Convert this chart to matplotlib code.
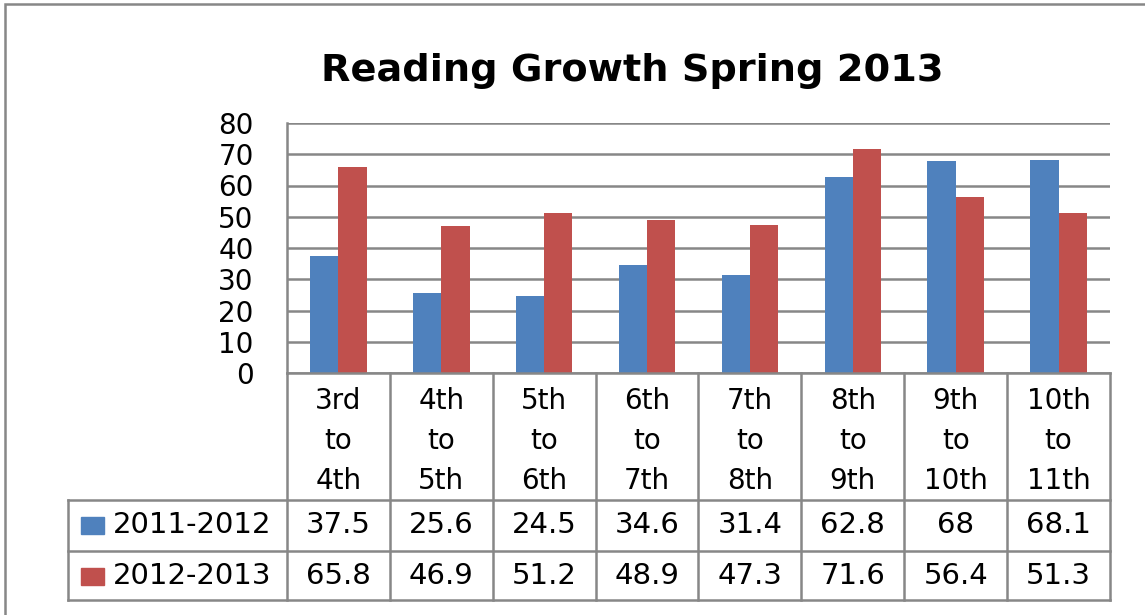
import matplotlib.pyplot as plt
from matplotlib.patches import Rectangle

categories = ["3rd\nto\n4th", "4th\nto\n5th", "5th\nto\n6th", "6th\nto\n7th",
              "7th\nto\n8th", "8th\nto\n9th", "9th\nto\n10th", "10th\nto\n11th"]
series_names = ["2011-2012", "2012-2013"]
growth_2011_2012 = [37.5, 25.6, 24.5, 34.6, 31.4, 62.8, 68, 68.1]
growth_2012_2013 = [65.8, 46.9, 51.2, 48.9, 47.3, 71.6, 56.4, 51.3]
table_text_2011 = ["37.5", "25.6", "24.5", "34.6", "31.4", "62.8", "68", "68.1"]
table_text_2012 = ["65.8", "46.9", "51.2", "48.9", "47.3", "71.6", "56.4", "51.3"]
yticks = [0, 10, 20, 30, 40, 50, 60, 70, 80]

BLUE = "#4F81BD"
RED = "#C0504D"
GRAY = "#878787"
W, H = 1145, 615


def fig_box(x0, y_top, x1, y_bot):
    # pixel box -> figure fraction [left, bottom, width, height]
    return [x0 / W, 1 - y_bot / H, (x1 - x0) / W, (y_bot - y_top) / H]


fig = plt.figure(figsize=(W / 100, H / 100), dpi=100)

# outer chart border (runs off the right and bottom edges)
fig.patches.append(Rectangle((5 / W, -0.1), 1.2, 1.1 - 4 / H, transform=fig.transFigure,
                             fill=False, edgecolor=GRAY, linewidth=1.8, clip_on=False))

fig.text(632 / W, 1 - 71 / H, "Reading Growth Spring 2013", ha="center", va="center",
         fontsize=27.5, fontweight="bold")

# bar plot area
ax = fig.add_axes(fig_box(287, 123, 1110, 373))
x = list(range(len(categories)))
bw = 0.275
ax.bar([i - bw / 2 for i in x], growth_2011_2012, width=bw, color=BLUE, zorder=3)
ax.bar([i + bw / 2 for i in x], growth_2012_2013, width=bw, color=RED, zorder=3)
ax.set_xlim(-0.5, len(categories) - 0.5)
ax.set_ylim(0, 80)
ax.set_yticks(yticks)
ax.set_xticks([])
ax.tick_params(axis="y", length=0, pad=24, labelsize=20)
ax.yaxis.grid(True, color=GRAY, linewidth=1.8, zorder=0)
for s in ["top", "right", "bottom"]:
    ax.spines[s].set_visible(False)
ax.spines["left"].set_color(GRAY)
ax.spines["left"].set_linewidth(1.8)

# data table below the plot
left_units = 219 / (823 / 8)
tx = fig.add_axes(fig_box(68, 373, 1110, 600))
tx.set_xlim(-0.5 - left_units, len(categories) - 0.5)
tx.set_ylim(227, 0)
tx.axis("off")
lk = dict(color=GRAY, linewidth=1.8, solid_capstyle="projecting", clip_on=False)
tx.plot([-0.5, len(categories) - 0.5], [0, 0], **lk)
for k in range(len(categories) + 1):
    tx.plot([k - 0.5, k - 0.5], [0, 227], **lk)
tx.plot([-0.5 - left_units] * 2, [127, 227], **lk)
for yy in [127, 178, 227]:
    tx.plot([-0.5 - left_units, len(categories) - 0.5], [yy, yy], **lk)

for i, lab in enumerate(categories):
    tx.text(i, 68, lab, ha="center", va="center", fontsize=20, linespacing=1.53)
    tx.text(i, 152, table_text_2011[i], ha="center", va="center", fontsize=21)
    tx.text(i, 203, table_text_2012[i], ha="center", va="center", fontsize=21)

x0 = -0.5 - left_units
sw = 23 / (823 / 8)
for yc, name, col in [(152, series_names[0], BLUE), (203, series_names[1], RED)]:
    tx.add_patch(Rectangle((x0 + 13 / (823 / 8), yc - 8), sw, 17, color=col, clip_on=False))
    tx.text(x0 + 45 / (823 / 8), yc, name, ha="left", va="center", fontsize=21)

fig.savefig("out.png", dpi=100)
